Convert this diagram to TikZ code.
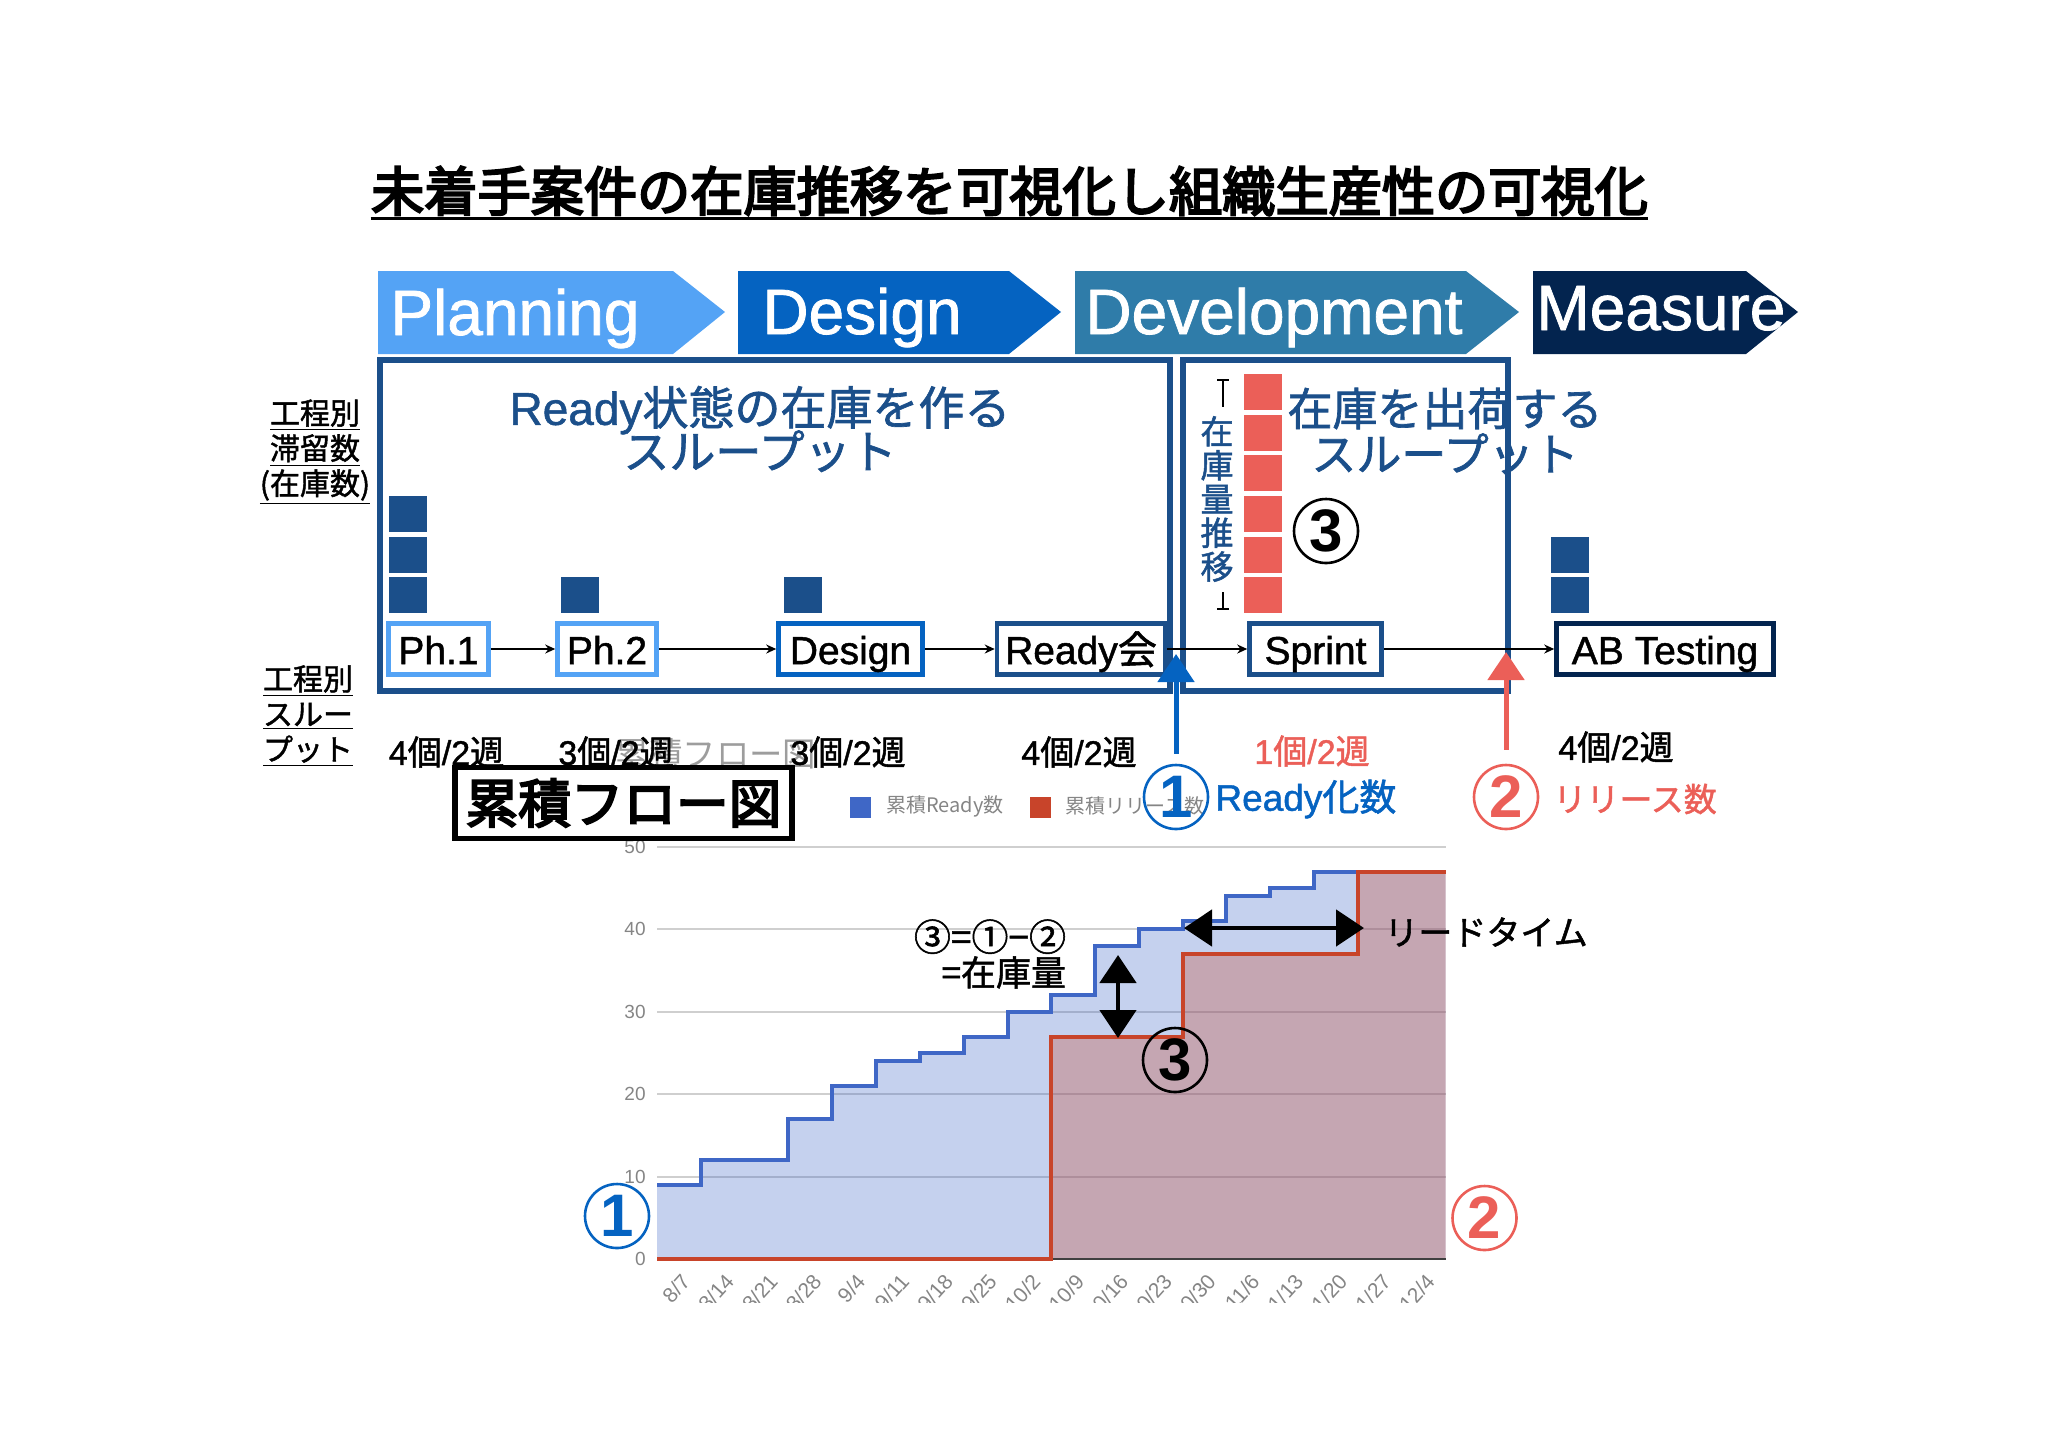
\documentclass[tikz,border=0pt]{standalone}
\usepackage{fontspec}
\setmainfont{Liberation Sans}[FakeBold=1.2]
\newfontfamily\cjk{Noto Sans CJK JP}[FakeBold=1.5]
\newfontfamily\cjkheavy{Noto Sans CJK JP}[FakeBold=4]
\newfontfamily\cjkplain{Noto Sans CJK JP}
\newfontfamily\plainfont{Liberation Sans}
\usetikzlibrary{arrows.meta, positioning}

\newcommand{\jp}[1]{{\cjk #1}}
\newcommand{\fs}[2]{\fontsize{#1}{#2}\selectfont}

\definecolor{planblue}{HTML}{54A3F5}
\definecolor{designblue}{HTML}{0563C1}
\definecolor{devblue}{HTML}{2F7CA9}
\definecolor{measureblue}{HTML}{03244F}
\definecolor{boxblue}{HTML}{1B4F8A}
\definecolor{stockred}{HTML}{EB5F58}
\definecolor{chartblue}{HTML}{3F67C6}
\definecolor{chartred}{HTML}{C8442A}
\definecolor{axisgrey}{HTML}{858585}
\definecolor{gridgrey}{HTML}{CFCFCF}

\tikzset{
  phase/.style={inner sep=0, anchor=base west, text=white, font=\fs{32}{36}},
  stepbox/.style={draw, line width=2.3pt, fill=white, inner sep=0, minimum height=25.5pt, text height=17pt, text depth=2pt, font=\fs{19.5}{22}},
  stock/.style={fill=boxblue, inner sep=0, minimum width=19pt, minimum height=18pt},
  stockr/.style={stock, fill=stockred},
  flowlabel/.style={inner sep=0, font=\fs{17}{20}},
  sidelabel/.style={inner sep=0, align=center, font=\cjk\fs{15}{17.6}},
  bigtext/.style={inner sep=0, text=boxblue, align=center, font=\fs{23}{22}},
  numcircle/.style={circle, draw, line width=1.3pt, inner sep=0, minimum size=32pt, font=\plainfont\bfseries\fs{30}{30}},
  axislabel/.style={inner sep=0, text=axisgrey, font=\plainfont\fs{9.5}{11}},
  datelabel/.style={axislabel, font=\plainfont\fs{10.5}{12}},
  legendtext/.style={inner sep=0, anchor=west, text=axisgrey, font=\cjkplain\fs{10}{12}},
  handarrow/.style={line width=2.5pt, -{Triangle[width=18pt,length=14pt]}},
  handboth/.style={line width=2.4pt, {Triangle[width=18pt,length=14pt]}-{Triangle[width=18pt,length=14pt]}},
  flow/.style={line width=0.9pt, -{Stealth[length=5pt,width=4.5pt]}},
}

\begin{document}
\begin{tikzpicture}[x=0.5pt, y=-0.5pt]
  \useasboundingbox (0,0) rectangle (2048,1447);

  % Title
  \node[inner sep=0, font=\cjkheavy\fs{26.6}{30}] (title) at (1009.5,191) {未着手案件の在庫推移を可視化し組織生産性の可視化};
  \draw[line width=1.4pt] ([yshift=-1pt]title.south west) -- ([yshift=-1pt]title.south east);

  % Phases
  \fill[planblue] (378,271) -- (673,271) -- (725,312) -- (673,354) -- (378,354) -- cycle;
  \fill[designblue] (738,271) -- (1009,271) -- (1061,312) -- (1009,354) -- (738,354) -- cycle;
  \fill[devblue] (1075,271) -- (1466,271) -- (1519,312) -- (1466,354) -- (1075,354) -- cycle;
  \fill[measureblue] (1533,271) -- (1746,271) -- (1798,312) -- (1746,354) -- (1533,354) -- cycle;
  \node[phase] (planning) at (390,335) {Planning};
  \node[phase] (design) at (762,334) {Design};
  \node[phase] (development) at (1085,334) {Development};
  \node[phase] (measure) at (1536,330) {Measure};

  % Frames
  \draw[boxblue, line width=3pt] (380,360) rectangle (1170,691);
  \draw[boxblue, line width=3pt] (1183,360) rectangle (1508,691);

  % Side labels
  \node[sidelabel] (stayed) at (315,452) {\underline{工程別}\\\underline{滞留数}\\\underline{(在庫数)}};
  \node[sidelabel] (through) at (308,716) {\underline{工程別}\\\underline{スルー}\\\underline{プット}};

  % Stock
  \foreach \y in {514,555,595} \node[stock] (ph\y) at (408,\y) {};
  \node[stock] (phtwo) at (579.5,595) {};
  \node[stock] (designstock) at (802.5,595) {};
  \foreach \y in {392,433,473,514,555,595} \node[stockr] (sprint\y) at (1263,\y) {};
  \foreach \y in {555,595} \node[stock] (ab\y) at (1569.5,\y) {};

  % Headings
  \node[bigtext] (makehead) at (760,429) {Ready\jp{状態の在庫を作る}\\[-3pt]\jp{スループット}};
  \node[bigtext, font=\fs{22.5}{22}] (shiphead) at (1445,431) {\jp{在庫を出荷する}\\[0.6pt]\jp{スループット}};
  \node[inner sep=0, text=boxblue, align=center, font=\cjk\fs{16.5}{16.9}] (stockword) at (1217,499) {在\\庫\\量\\推\\移};
  \coordinate (stocktopa) at (1223,379);
  \coordinate (stocktopb) at (1223,407);
  \coordinate (stockbota) at (1223,592);
  \coordinate (stockbotb) at (1223,610);
  \draw[line width=1pt, {Bar[width=6pt]}-] (stocktopa) -- (stocktopb);
  \draw[line width=1pt, -{Bar[width=6pt]}] (stockbota) -- (stockbotb);
  \node[numcircle, draw=black] (threetop) at (1326,531) {3};

  % Steps
  \node[stepbox, draw=planblue, minimum width=50pt] (ph1) at (438.5,649) {Ph.1};
  \node[stepbox, draw=planblue, minimum width=49.5pt] (ph2) at (607,649) {Ph.2};
  \node[stepbox, draw=designblue, minimum width=72pt] (dsg) at (850.5,649) {Design};
  \node[stepbox, draw=boxblue, minimum width=84pt] (ready) at (1081,649) {Ready\jp{会}};
  \node[stepbox, draw=boxblue, minimum width=66pt] (sprint) at (1315.5,649) {Sprint};
  \node[stepbox, draw=measureblue, minimum width=108.5pt] (abtest) at (1665,649) {AB Testing};
  \draw[flow] (ph1) -- (ph2);
  \draw[flow] (ph2) -- (dsg);
  \draw[flow] (dsg) -- (ready);
  \draw[flow] (ready) -- (sprint);
  \draw[flow] (sprint) -- (abtest);

  % Faded caption
  \node[inner sep=0, text=axisgrey!80, font=\cjkplain\fs{16.7}{20}] (fadedtitle) at (716,754) {累積フロー図};

  % Throughput
  \node[flowlabel] (rate1) at (446.5,752) {4\jp{個}/2\jp{週}};
  \node[flowlabel] (rate2) at (616,752) {3\jp{個}/2\jp{週}};
  \node[flowlabel] (rate3) at (848,752) {3\jp{個}/2\jp{週}};
  \node[flowlabel] (rate4) at (1079,752) {4\jp{個}/2\jp{週}};
  \node[flowlabel, text=stockred] (rate5) at (1312,751) {1\jp{個}/2\jp{週}};
  \node[flowlabel] (rate6) at (1616,747) {4\jp{個}/2\jp{週}};

  % Chart
  \foreach \v/\py in {0/1259,10/1177,20/1094,30/1012,40/929,50/847} {
    \draw[gridgrey, line width=0.8pt] (657,\py) -- (1445.5,\py);
    \node[axislabel, anchor=east] (ylab\v) at (646,\py) {\v};
  }
  \fill[chartblue, opacity=0.3] (657,1259) -- (657,1185) -| (701,1160) -| (788,1119) -| (832,1086) -| (876,1061) -| (920,1053) -| (964,1037) -| (1008,1012) -| (1051,995) -| (1095,946) -| (1139,929) -| (1183,921) -| (1226,896) -| (1270,888) -| (1314,872) -- (1445.5,872) -- (1445.5,1259) -- cycle;
  \fill[chartred, opacity=0.3] (1051,1259) |- (1183,1037) |- (1358,954) |- (1445.5,872) -- (1445.5,1259) -- cycle;
  \draw[black!75, line width=0.8pt] (1051,1259) -- (1445.5,1259);
  \draw[chartblue, line width=1.8pt] (657,1185) -| (701,1160) -| (788,1119) -| (832,1086) -| (876,1061) -| (920,1053) -| (964,1037) -| (1008,1012) -| (1051,995) -| (1095,946) -| (1139,929) -| (1183,921) -| (1226,896) -| (1270,888) -| (1314,872) -- (1358,872);
  \draw[chartred, line width=1.8pt] (657,1259) -- (1051,1259) |- (1183,1037) |- (1358,954) |- (1445.5,872);

  % Dates
  \begin{scope}
    \clip (600,1262) rectangle (1500,1302);
    \foreach \lab [count=\k from 0] in {8/7,8/14,8/21,8/28,9/4,9/11,9/18,9/25,10/2,10/9,10/16,10/23,10/30,11/6,11/13,11/20,11/27,12/4}
      \node[datelabel, anchor=east, rotate=48] (xlab\k) at ({657+43.8*\k+29},1277) {\lab};
  \end{scope}

  % Legend
  \node[inner sep=0, minimum width=10.5pt, minimum height=10.5pt, fill=chartblue] (legblue) at (860.5,807) {};
  \node[legendtext] (legbluetext) at (886,806) {累積Ready数};
  \node[inner sep=0, minimum width=10.5pt, minimum height=10.5pt, fill=chartred] (legred) at (1040,807) {};
  \node[legendtext] (legredtext) at (1065,806) {累積リリース数};

  % Chart title
  \node[draw=black, line width=2.8pt, fill=white, inner sep=0, minimum width=168.5pt, minimum height=35.5pt, font=\cjkheavy\fs{26.3}{30}] (charttitle) at (623.5,803) {累積フロー図};

  % Numbers
  \node[numcircle, draw=designblue, text=designblue] (oneflow) at (1176,797) {1};
  \node[numcircle, draw=stockred, text=stockred] (twoflow) at (1506,797) {2};
  \node[inner sep=0, anchor=west, text=designblue, font=\fs{18.5}{22}] (readycount) at (1215,799) {Ready\jp{化数}};
  \node[inner sep=0, anchor=west, text=stockred, font=\cjk\fs{16.5}{22}] (releasecount) at (1553,799) {リリース数};
  \node[numcircle, draw=designblue, text=designblue] (onechart) at (617,1216) {1};
  \node[numcircle, draw=stockred, text=stockred] (twochart) at (1484.5,1218) {2};
  \node[numcircle, draw=black] (threechart) at (1175,1060) {3};

  % Marks
  \coordinate (bluetip) at (1176,654);
  \coordinate (redtip) at (1506,652);
  \draw[handarrow, designblue, shorten <=5pt] (oneflow.north) -- (bluetip);
  \draw[handarrow, stockred, shorten <=7pt] (twoflow.north) -- (redtip);
  \coordinate (stocka) at (1118,955);
  \coordinate (stockb) at (1118,1038);
  \coordinate (leada) at (1184,928);
  \coordinate (leadb) at (1364,928);
  \draw[handboth] (stocka) -- (stockb);
  \draw[handboth] (leada) -- (leadb);

  % Notes
  \node[inner sep=0, align=right, font=\cjk\fs{17.5}{17.5}] (formula) at (990,954) {{\fs{18.5}{18}③=①−②}\\=在庫量};
  \node[inner sep=0, anchor=west, font=\cjk\fs{17}{20}] (leadtime) at (1384,932) {リードタイム};

\end{tikzpicture}
\end{document}
